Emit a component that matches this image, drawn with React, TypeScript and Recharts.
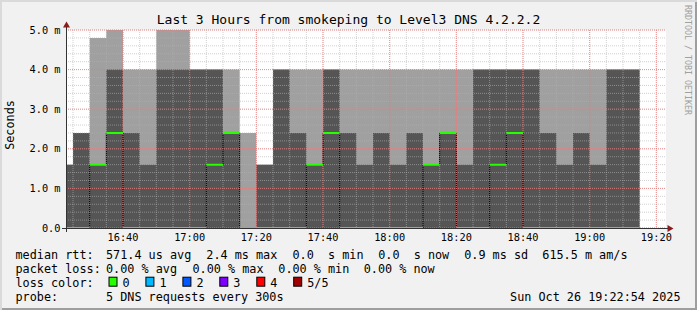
import { ComposedChart, Area, Line, XAxis, YAxis, CartesianGrid } from "recharts"

// 5-minute slots (start time), rrd values in ms
const slotStart = [
  "16:20", "16:25", "16:30", "16:35", "16:40", "16:45", "16:50", "16:55",
  "17:00", "17:05", "17:10", "17:15", "17:20", "17:25", "17:30", "17:35",
  "17:40", "17:45", "17:50", "17:55", "18:00", "18:05", "18:10", "18:15",
  "18:20", "18:25", "18:30", "18:35", "18:40", "18:45", "18:50", "18:55",
  "19:00", "19:05", "19:10",
]
const lastSlotEnd = "19:15"
const darkTop = [
  1.6, 2.4, 1.6, 4.0, 2.4, 1.6, 4.0, 4.0,
  4.0, 4.0, 2.4, 0, 1.6, 4.0, 2.4, 1.6,
  4.0, 2.4, 1.6, 2.4, 1.6, 2.4, 1.6, 2.4,
  1.6, 4.0, 4.0, 4.0, 4.0, 2.4, 1.6, 2.4,
  1.6, 4.0, 4.0,
]
const smokeTop = [
  1.6, 2.4, 4.8, 5.05, 4.0, 4.0, 5.05, 5.05,
  4.0, 4.0, 4.0, 2.4, 1.6, 4.0, 4.0, 4.0,
  4.0, 4.0, 4.0, 4.0, 4.0, 4.0, 4.0, 4.0,
  4.0, 4.0, 4.0, 4.0, 4.0, 4.0, 4.0, 4.0,
  4.0, 4.0, 4.0,
]
const medianRtt = [
  0, 0, 1.6, 2.4, 0, 0, 0, 0,
  0, 1.6, 2.4, 0, 0, 0, 0, 1.6,
  2.4, 0, 0, 0, 0, 0, 1.6, 2.4,
  0, 0, 1.6, 2.4, 0, 0, 0, 0,
  0, 0, 0,
]

const windowStart = "16:22:54"
const windowEnd = "19:22:54"
const timeTicks = ["16:40", "17:00", "17:20", "17:40", "18:00", "18:20", "18:40", "19:00", "19:20"]
const valueTicks = [0, 1, 2, 3, 4, 5]

const rttStats = ["571.4 us avg", "2.4 ms max", "0.0  s min", "0.0  s now", "0.9 ms sd", "615.5 m am/s"]
const lossStats = ["0.00 % avg", "0.00 % max", "0.00 % min", "0.00 % now"]
const lossLabels = ["0", "1", "2", "3", "4", "5/5"]
const lossColors = ["#26ff00", "#00b8ff", "#0059ff", "#7e00ff", "#ff0000", "#a10000"]
const probeText = "5 DNS requests every 300s"
const stamp = "Sun Oct 26 19:22:54 2025"

// layout
const rttX = [106, 206.3, 292.5, 378.2, 464.2, 542.3]
const lossX = [106, 192.5, 278.3, 363.7]
const boxX = [108.5, 145.4, 182.4, 219.3, 256.3, 293.2]
const rowY = [259.3, 273, 286.7, 300.5]
const mono = "'DejaVu Sans Mono', monospace"

const toMin = (s: string) => {
  const [h, m, sec] = s.split(":").map(Number)
  return h * 60 + m + (sec || 0) / 60
}
const fmtTime = (v: number) => {
  const h = Math.floor(v / 60)
  const m = Math.round(v - h * 60)
  return `${h}:${m < 10 ? "0" : ""}${m}`
}
const fmtVal = (v: number) => (v === 0 ? "0.0" : `${v.toFixed(1)} m`)
const keepSpaces = (s: string) => s.replace(/ /g, "\u00a0")

const n = slotStart.length
const rows = slotStart.map((s, i) => ({ t: toMin(s), dark: darkTop[i], smoke: smokeTop[i], median: medianRtt[i] }))
rows.push({ t: toMin(lastSlotEnd), dark: darkTop[n - 1], smoke: smokeTop[n - 1], median: medianRtt[n - 1] })

// green median: horizontal pieces only
const medianSegs = slotStart.flatMap((s, i) => {
  const end = i < n - 1 ? toMin(slotStart[i + 1]) : toMin(lastSlotEnd)
  return [
    { t: toMin(s), m: medianRtt[i] as number | null },
    { t: end, m: medianRtt[i] as number | null },
    { t: end, m: null },
  ]
})

const minorY: number[] = []
for (let k = 0; k <= 25; k++) minorY.push(+(k * 0.2).toFixed(1))
const minorX: number[] = []
for (let t = toMin("16:25"); t <= toMin("19:20"); t += 5) minorX.push(t)
const majorX = timeTicks.map(toMin)

export default function App() {
  return (
    <div
      style={{
        position: "absolute",
        left: 0,
        top: 0,
        width: 697,
        height: 310,
        background: "#f1f1f1",
        boxShadow: "inset 2px 2px 0 #dadada, inset -2px -2px 0 #9e9e9e",
      }}
    >
      <div style={{ position: "absolute", left: 0, top: 0 }}>
        <ComposedChart width={697} height={245} data={rows} margin={{ top: 30, right: 31, bottom: 0, left: 0 }}>
          <CartesianGrid fill="#ffffff" stroke="none" horizontal={false} vertical={false} zIndex={0} />
          <XAxis
            type="number"
            dataKey="t"
            domain={[toMin(windowStart), toMin(windowEnd)]}
            allowDataOverflow
            ticks={majorX}
            interval={0}
            tickFormatter={fmtTime}
            tick={{ fontSize: 10.3, fontFamily: mono, fill: "#000" }}
            tickLine={false}
            axisLine={false}
            tickSize={0}
            tickMargin={6}
            height={17}
          />
          <YAxis
            type="number"
            domain={[0, 5]}
            allowDataOverflow
            ticks={valueTicks}
            interval={0}
            tickFormatter={fmtVal}
            tick={{ fontSize: 10.3, fontFamily: mono, fill: "#000" }}
            tickLine={false}
            axisLine={false}
            tickSize={0}
            tickMargin={5.5}
            width={66}
          />
          <Area type="stepAfter" dataKey="smoke" fill="#a0a0a0" fillOpacity={1} stroke="none" dot={false} activeDot={false} isAnimationActive={false} zIndex={10} />
          <Area type="stepAfter" dataKey="dark" fill="#555555" fillOpacity={1} stroke="none" dot={false} activeDot={false} isAnimationActive={false} zIndex={11} />
          <Line type="stepAfter" dataKey="median" stroke="#000000" strokeWidth={1} dot={false} activeDot={false} isAnimationActive={false} zIndex={12} />
          <CartesianGrid
            horizontalValues={minorY}
            verticalValues={minorX}
            stroke="#b0b0b0"
            strokeOpacity={0.6}
            strokeDasharray="1 1"
            zIndex={20}
          />
          <CartesianGrid
            horizontalValues={valueTicks}
            verticalValues={majorX}
            stroke="#ff6060"
            strokeOpacity={0.6}
            strokeDasharray="1 1"
            zIndex={21}
          />
          <Line
            data={medianSegs}
            type="linear"
            dataKey="m"
            stroke="#26ff00"
            strokeWidth={2}
            connectNulls={false}
            dot={false}
            activeDot={false}
            isAnimationActive={false}
            zIndex={30}
          />
        </ComposedChart>
      </div>
      <svg width={697} height={310} style={{ position: "absolute", left: 0, top: 0, pointerEvents: "none" }}>
        <line x1={66.5} y1={26} x2={66.5} y2={232} stroke="#333" strokeWidth={1} />
        <line x1={62} y1={228.5} x2={669} y2={228.5} stroke="#333" strokeWidth={1} />
        <polygon points="66.5,21.5 63,27.5 70,27.5" fill="#8b1c1c" />
        <polygon points="673.5,228.5 667.5,225 667.5,232" fill="#8b1c1c" />

        <text x={348.5} y={24} textAnchor="middle" fontFamily={mono} fontSize={13} fill="#000">
          Last 3 Hours from smokeping to Level3 DNS 4.2.2.2
        </text>
        <text transform="translate(14.3,125) rotate(-90)" textAnchor="middle" fontFamily={mono} fontSize={11.8} fill="#000">
          Seconds
        </text>
        <text transform="translate(684.5,5) rotate(90)" fontFamily={mono} fontSize={8.3} fill="#a0a0a0">
          RRDTOOL / TOBI OETIKER
        </text>

        <g fontFamily={mono} fontSize={11.8} fill="#000">
          <text x={15.5} y={rowY[0]}>median rtt:</text>
          {rttStats.map((s, i) => (
            <text key={s} x={rttX[i]} y={rowY[0]}>{keepSpaces(s)}</text>
          ))}
          <text x={15.5} y={rowY[1]}>packet loss:</text>
          {lossStats.map((s, i) => (
            <text key={s} x={lossX[i]} y={rowY[1]}>{keepSpaces(s)}</text>
          ))}
          <text x={15.5} y={rowY[2]}>loss color:</text>
          {lossLabels.map((s, i) => (
            <g key={s}>
              <rect x={boxX[i] + 0.5} y={rowY[2] - 9.5} width={8} height={9} fill={lossColors[i]} stroke="#000" strokeWidth={1} />
              <text x={boxX[i] + 14} y={rowY[2]}>{s}</text>
            </g>
          ))}
          <text x={15.5} y={rowY[3]}>probe:</text>
          <text x={106} y={rowY[3]}>{probeText}</text>
          <text x={680.5} y={rowY[3]} textAnchor="end">{stamp}</text>
        </g>
      </svg>
    </div>
  )
}
